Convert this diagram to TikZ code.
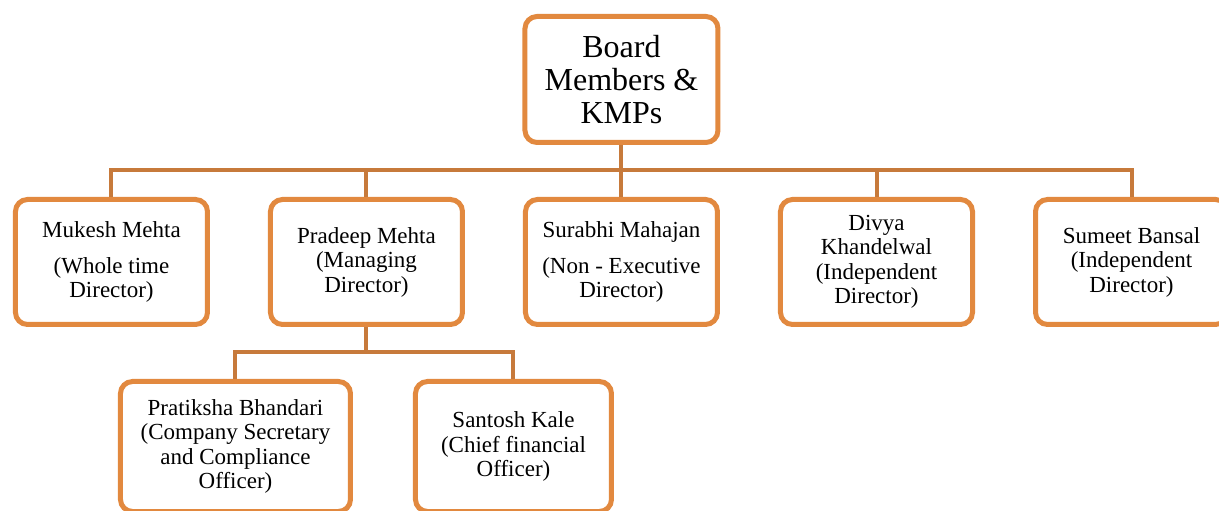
\documentclass[tikz,border=0pt]{standalone}
\usepackage{fontspec}
\setmainfont{Liberation Serif}
\usepackage{xcolor}
\usepackage{tikz}
\usetikzlibrary{positioning,calc}

\definecolor{boxorange}{HTML}{E2893F}
\definecolor{linkorange}{HTML}{C77A3B}

\begin{document}
\begin{tikzpicture}[
  node distance=52pt and 58pt,
  every node/.style={font=\fontsize{23}{24.5}\selectfont},
  box/.style={draw=boxorange, line width=5pt, rounded corners=12pt, fill=white, minimum width=192pt, minimum height=125pt, inner sep=4pt, align=center},
  headbox/.style={box, minimum width=193pt, minimum height=126pt, font=\fontsize{32}{33}\selectfont},
  staffbox/.style={box, minimum height=130pt},
  link/.style={draw=linkorange, line width=4pt},
]
\useasboundingbox (-621.5pt,262pt) rectangle (597.5pt,-249pt);
\clip (-621.5pt,262pt) rectangle (597.5pt,-249pt);
\node[box] (sur) at (0,0) {Surabhi Mahajan\\[11pt](Non - Executive\\Director)};
\node[headbox, above=of sur] (top) {Board\\Members \&\\KMPs};
\node[box, left=of sur] (pra) {Pradeep Mehta\\(Managing\\Director)};
\node[box, left=of pra] (muk) {Mukesh Mehta\\[11pt](Whole time\\Director)};
\node[box, right=of sur] (div) {Divya\\Khandelwal\\(Independent\\Director)};
\node[box, right=of div] (sum) {Sumeet Bansal\\(Independent\\Director)};
\node[staffbox, minimum width=230pt, below=of pra, xshift=-131pt] (pbh) {Pratiksha Bhandari\\(Company Secretary\\and Compliance\\Officer)};
\node[staffbox, minimum width=196pt, right=60pt of pbh] (skl) {Santosh Kale\\(Chief financial\\Officer)};
% board to directors
\coordinate (bus) at ($(top.south)+(0,-25pt)$);
\draw[link] (top.south) -- (bus);
\draw[link] (muk.north) |- (bus) -| (sum.north);
\foreach \n in {pra,sur,div}
  \draw[link] (\n.north |- bus) -- (\n.north);
% managing director to KMPs
\coordinate (kbus) at ($(pra.south)+(0,-25pt)$);
\draw[link] (pra.south) -- (kbus);
\draw[link] (pbh.north) |- (kbus) -| (skl.north);
\end{tikzpicture}
\end{document}
